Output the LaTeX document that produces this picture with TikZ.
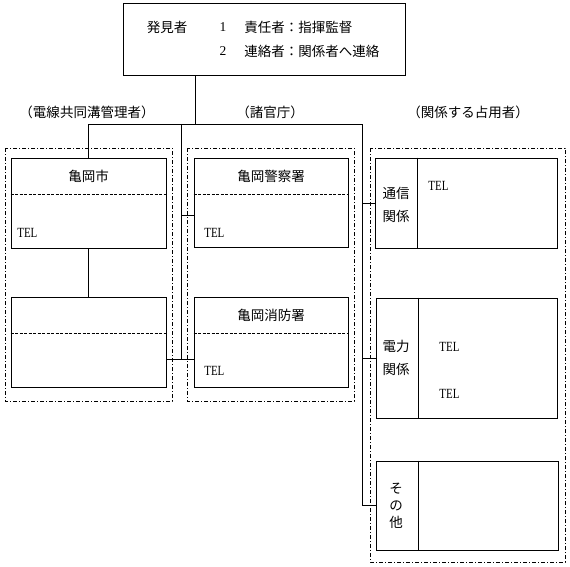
\documentclass[tikz,border=0pt]{standalone}
\usepackage{fontspec}
\setmainfont{Liberation Serif}
\newfontfamily\jp{Noto Sans CJK JP}
\newfontfamily\telfont[FakeStretch=0.78]{Liberation Serif}

\begin{document}
\begin{tikzpicture}[x=1pt, y=-1pt, line width=0.8pt,
	box/.style 2 args={draw, rectangle, inner sep=0pt, minimum width=#1, minimum height=#2},
	jtxt/.style={inner sep=0pt, font=\jp\fontsize{13.5}{23}\selectfont},
	tel/.style={inner sep=0pt, anchor=west, font=\telfont\fontsize{14}{16}\selectfont},
	frame/.style={line width=0.6pt, dash pattern=on 4pt off 2pt on 1pt off 2pt},
	sep/.style={line width=0.6pt, dash pattern=on 3pt off 1.5pt}]
	\useasboundingbox (0,0) rectangle (570,567);
	% 発見者からの連絡系統図
	\node[box={282}{72}] (hakken) at (264,39) {};
	\node[jtxt] (hk) at (167,27) {発見者};
	\node[inner sep=0pt, font=\fontsize{13.5}{16}\selectfont] (n1) at (223,27) {1};
	\node[inner sep=0pt, font=\fontsize{13.5}{16}\selectfont] (n2) at (223,51) {2};
	\node[jtxt, anchor=west] (r1) at (244,27) {責任者：指揮監督};
	\node[jtxt, anchor=west] (r2) at (244,51) {連絡者：関係者へ連絡};

	\node[jtxt] (g1) at (87,112) {（電線共同溝管理者）};
	\node[jtxt] (g2) at (270,112) {（諸官庁）};
	\node[jtxt] (g3) at (468,112) {（関係する占用者）};

	\draw[frame] (5,148) rectangle (172,401);
	\draw[frame] (187,148) rectangle (354,401);
	\draw[frame] (370,148) rectangle (565,562);

	\node[box={155}{90}] (city) at (88.5,203) {};
	\node[box={155}{90}] (city2) at (88.5,342) {};
	\node[box={154}{89}] (police) at (271,202.5) {};
	\node[box={154}{90}] (fire) at (271,342) {};
	\node[box={182}{90}] (tsushin) at (466,203) {};
	\node[box={181}{120}] (denryoku) at (466.5,358) {};
	\node[box={182}{89}] (sonota) at (467,505.5) {};

	\foreach \b in {city, city2, police, fire}
		\draw[sep] ([yshift=-37pt]\b.north west) -- ([yshift=-37pt]\b.north east);
	\foreach \b in {tsushin, denryoku, sonota}
		\draw ([xshift=42.5pt]\b.north west) -- ([xshift=42.5pt]\b.south west);

	\node[jtxt] (tcity) at ([yshift=-19pt]city.north) {亀岡市};
	\node[jtxt] (tpolice) at ([yshift=-19pt]police.north) {亀岡警察署};
	\node[jtxt] (tfire) at ([yshift=-19pt]fire.north) {亀岡消防署};
	\node[tel] (telcity) at (17,233) {TEL};
	\node[tel] (telpolice) at (204,233) {TEL};
	\node[tel] (telfire) at (204,371) {TEL};

	\node[jtxt, align=center] (ltsushin) at (396,204.5) {通信\\関係};
	\node[jtxt, align=center] (ldenryoku) at (396,358) {電力\\関係};
	\node[jtxt, align=center, font=\jp\fontsize{13.5}{17}\selectfont] (lsonota) at (396,506) {そ\\の\\他};
	\node[tel] (teltsushin) at (428,186) {TEL};
	\node[tel] (teld1) at (439,347) {TEL};
	\node[tel] (teld2) at (439,394) {TEL};

	\coordinate (jt) at (195,124);
	\coordinate (jl) at (88.5,124);
	\coordinate (jm) at (181,124);
	\coordinate (jr) at (362,124);
	\coordinate (kp) at (181,215);
	\coordinate (kf) at (181,359);
	\draw (hakken.south -| jt) -- (jt);
	\draw (city.north) -- (jl) -- (jr) -- (jr |- sonota.west) -- (sonota.west);
	\draw (city) -- (city2);
	\draw (jm) -- (kf);
	\draw (kp) -- (kp -| police.west);
	\draw (city2.east |- kf) -- (kf -| fire.west);
	\draw (jr |- tsushin.west) -- (tsushin.west);
	\draw (jr |- denryoku.west) -- (denryoku.west);
\end{tikzpicture}
\end{document}
